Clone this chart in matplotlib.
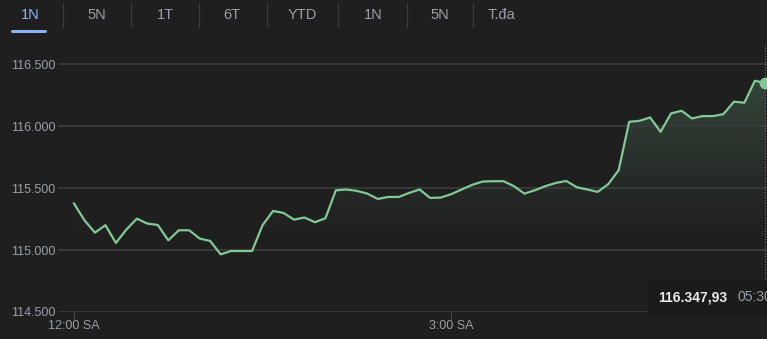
import numpy as np
import matplotlib
matplotlib.use("Agg")
import matplotlib.pyplot as plt
from matplotlib.patches import FancyBboxPatch, Rectangle
from matplotlib.ticker import FuncFormatter

# price every 5 minutes from 12:00 SA to 05:30 SA
minutes = np.arange(0, 331, 5)
prices = [115375, 115240, 115140, 115200, 115057, 115165, 115253, 115213, 115202, 115078,
          115159, 115159, 115092, 115073, 114965, 114992, 114992, 114992, 115200, 115315,
          115299, 115245, 115262, 115224, 115256, 115482, 115488, 115477, 115455, 115412,
          115428, 115428, 115461, 115488, 115420, 115423, 115450, 115488, 115525, 115552,
          115555, 115555, 115515, 115455, 115482, 115515, 115541, 115557, 115506, 115488,
          115469, 115531, 115644, 116034, 116042, 116069, 115953, 116102, 116123, 116061,
          116080, 116080, 116096, 116196, 116188, 116365, 116347.93]
yticks = [114500, 115000, 115500, 116000, 116500]
xticks = [0, 180]
xlabels = ["12:00 SA", "3:00 SA"]
tabs = ["1N", "5N", "1T", "6T", "YTD", "1N", "5N", "T.đa"]
tab_x = [30, 97, 165, 232, 302, 373, 440, 488]
sep_x = [63, 131, 199, 267, 338, 407, 473]
last_label = "116.347,93"
last_time = "05:30"

BG = "#1f1f1f"
GRID = "#3a3a3a"
GREY = "#9aa0a6"
GREEN = "#81c995"
BLUE = "#8ab4f8"

plt.rcParams["font.family"] = ["Liberation Sans", "DejaVu Sans"]

W, H = 767, 339
fig = plt.figure(figsize=(W / 100, H / 100), dpi=100, facecolor=BG)

# axes in pixel coordinates
left, right, top, bottom = 58, 767, 45, 312
ax = fig.add_axes([left / W, 1 - bottom / H, (right - left) / W, (bottom - top) / H])
ax.set_facecolor(BG)

px_per_val = 61.9 / 500
ax.set_ylim(114500, 116500 + (64 - top) / px_per_val)
px_per_min = 125.7 / 60
ax.set_xlim(-(74 - left) / px_per_min, (right - 74) / px_per_min)

# gradient fill under the line
ylo, yhi = ax.get_ylim()
grad = np.zeros((200, 1, 4))
rgb = matplotlib.colors.to_rgb(GREEN)
grad[..., :3] = rgb
alpha = np.linspace(0, 1, 200)
grad[:, 0, 3] = 0.28 * np.clip((alpha - 0.25) / 0.75, 0, 1) ** 1.2
poly = ax.fill_between(minutes, prices, ylo, color="none", lw=0)
img = ax.imshow(grad, aspect="auto", origin="lower",
                extent=[minutes[0], minutes[-1], ylo, yhi], zorder=1)
img.set_clip_path(poly.get_paths()[0], transform=ax.transData)

ax.plot(minutes, prices, color=GREEN, lw=1.6, zorder=3, solid_joinstyle="round")
ax.plot(minutes[-1], prices[-1], "o", ms=7.5, color=GREEN, zorder=4, clip_on=False)
ax.axvline(minutes[-1], color="#6f6f6f", lw=0.8, ls=(0, (1, 1.5)), zorder=2)

ax.set_yticks(yticks)
ax.yaxis.set_major_formatter(FuncFormatter(lambda v, p: f"{int(v):,}".replace(",", ".")))
ax.set_xticks(xticks)
ax.set_xticklabels(xlabels)
ax.grid(axis="y", color=GRID, lw=1.3)
ax.tick_params(axis="y", length=0, pad=2, labelsize=9, labelcolor=GREY)
ax.tick_params(axis="x", length=5, width=0.8, color="#4a4a4a", pad=1,
               labelsize=9, labelcolor=GREY)
for s in ax.spines.values():
    s.set_visible(False)

# tabs on top
for lbl, x in zip(tabs, tab_x):
    ha = "left" if lbl == "T.đa" else "center"
    fig.text(x / W, 1 - 15 / H, lbl, ha=ha, va="center", fontsize=10.5,
             color=BLUE if x == tab_x[0] else GREY)
for x in sep_x:
    fig.add_artist(plt.Line2D([x / W, x / W], [1 - 3 / H, 1 - 27 / H], color="#3c3c3c", lw=0.8))
fig.add_artist(FancyBboxPatch((11 / W, 1 - 33 / H), 36 / W, 3 / H,
                              boxstyle="round,pad=0,rounding_size=0.003",
                              fc=BLUE, ec="none", transform=fig.transFigure))

# tooltip box at bottom right
fig.add_artist(Rectangle((648 / W, 1 - 316 / H), (W - 648) / W, 36 / H,
                         fc="#1b1b1b", ec="none", transform=fig.transFigure, zorder=5))
fig.text(658 / W, 1 - 297 / H, last_label, ha="left", va="center", fontsize=10,
         fontweight="bold", color="#e8eaed", zorder=6)
fig.text(737 / W, 1 - 297 / H, last_time, ha="left", va="center", fontsize=10,
         color=GREY, zorder=6)

fig.savefig("out.png", dpi=100, facecolor=BG)
